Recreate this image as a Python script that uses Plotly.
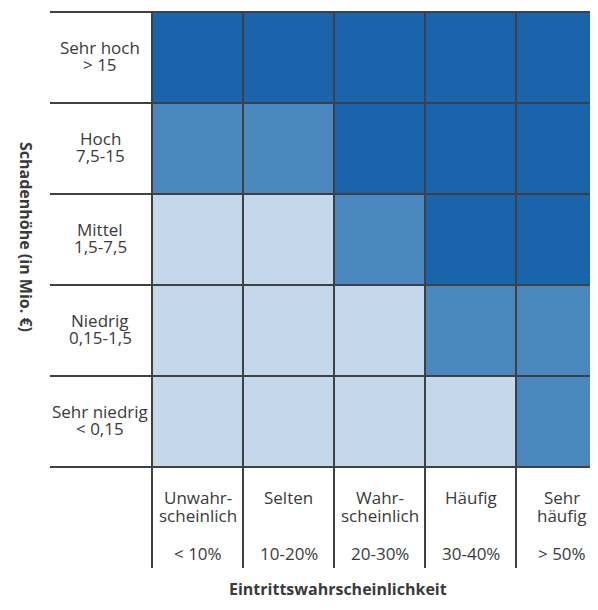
import plotly.graph_objects as go

# ---- data ----
row_names = ["Sehr niedrig", "Niedrig", "Mittel", "Hoch", "Sehr hoch"]
row_ranges = ["< 0,15", "0,15-1,5", "1,5-7,5", "7,5-15", "> 15"]
col_line1 = ["Unwahr-", "Selten", "Wahr-", "Häufig", "Sehr"]
col_line2 = ["scheinlich", "", "scheinlich", "", "häufig"]
col_ranges = ["< 10%", "10-20%", "20-30%", "30-40%", "> 50%"]
# risk level: 1 = low, 2 = medium, 3 = high (rows bottom -> top)
risk = [
    [1, 1, 1, 1, 2],
    [1, 1, 1, 2, 2],
    [1, 1, 2, 3, 3],
    [2, 2, 3, 3, 3],
    [3, 3, 3, 3, 3],
]
x_title = "Eintrittswahrscheinlichkeit"
y_title = "Schadenhöhe (in Mio. €)"

# ---- styling ----
C_LOW, C_MID, C_HIGH = "#c3d8eb", "#4a87be", "#1a64ab"
LINE = "#404040"
FONT = "Open Sans"
TXT = "#3a3a3a"

W, H = 598, 610
OFF = 8            # default page margin around the figure
CELL = 91.0
X0, Y0 = 152.0, 467.0  # screen pixel of heatmap left / bottom


def dx(sx):
    return (sx - X0) / CELL


def dy(sy):
    return (Y0 - sy) / CELL


def px(sx):
    return (sx - OFF) / W


def py(sy):
    return 1 - (sy - OFF) / H


ncol = len(col_line1)
nrow = len(row_names)

fig = go.Figure(go.Heatmap(
    z=risk,
    x=[i + 0.5 for i in range(ncol)],
    y=[j + 0.5 for j in range(nrow)],
    zmin=1, zmax=3,
    colorscale=[[0, C_LOW], [0.3333, C_LOW], [0.3334, C_MID], [0.6666, C_MID],
                [0.6667, C_HIGH], [1, C_HIGH]],
    showscale=False, hoverinfo="skip",
))

shapes = []
for j in range(nrow + 1):
    shapes.append(dict(type="line", x0=dx(50), x1=ncol + 0.2, y0=j, y1=j,
                       line=dict(color=LINE, width=2), layer="above"))
for i in range(ncol + 1):
    shapes.append(dict(type="line", x0=i, x1=i, y0=nrow, y1=dy(568),
                       line=dict(color=LINE, width=2), layer="above"))

FS = 17
lab_font = dict(family=FONT, size=FS, color=TXT)
ann = []
for j, (nm, rg) in enumerate(zip(row_names, row_ranges)):
    ann.append(dict(x=dx(100), y=j + 0.5 + 10.5 / CELL, text=nm, showarrow=False,
                    xref="x", yref="y", font=lab_font))
    ann.append(dict(x=dx(100), y=j + 0.5 - 7 / CELL, text=rg, showarrow=False,
                    xref="x", yref="y", font=lab_font))
for i in range(ncol):
    ann.append(dict(x=i + 0.5, y=dy(497), text=col_line1[i], showarrow=False,
                    xref="x", yref="y", font=lab_font))
    if col_line2[i]:
        ann.append(dict(x=i + 0.5, y=dy(515), text=col_line2[i], showarrow=False,
                        xref="x", yref="y", font=lab_font))
    ann.append(dict(x=i + 0.5, y=dy(553), text=col_ranges[i], showarrow=False,
                    xref="x", yref="y", font=lab_font))

ann.append(dict(x=px(338), y=py(602), xref="paper", yref="paper", text="<b>" + x_title + "</b>",
                showarrow=False, font=dict(family=FONT, size=16, color=TXT)))
ann.append(dict(x=px(13), y=py(237), xref="paper", yref="paper", text="<b>" + y_title + "</b>",
                showarrow=False, textangle=90, font=dict(family=FONT, size=16, color=TXT)))

fig.update_layout(
    width=W, height=H,
    margin=dict(l=0, r=0, t=0, b=0),
    paper_bgcolor="white", plot_bgcolor="white",
    xaxis=dict(range=[dx(OFF), dx(OFF + W)], visible=False, fixedrange=True),
    yaxis=dict(range=[dy(OFF + H), dy(OFF)], visible=False, fixedrange=True),
    shapes=shapes, annotations=ann, showlegend=False,
)

fig.write_html("out.html")
